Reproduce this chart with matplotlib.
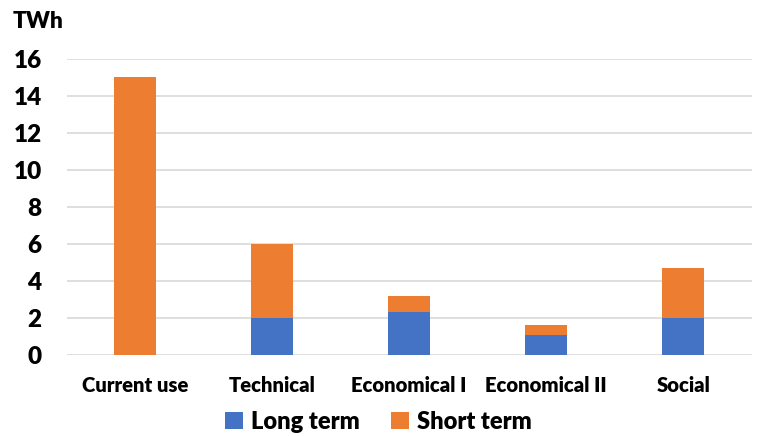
import matplotlib.pyplot as plt
import numpy as np

# Données
categories = ["Current use", "Technical", "Economical I", "Economical II", "Social"]
long_term = [0, 2.0, 2.3, 1.1, 2.0]
short_term = [15.0, 4.0, 0.9, 0.5, 2.7]

plt.rcParams['font.family'] = ['Lato', 'DejaVu Sans']

fig = plt.figure(figsize=(7.57, 4.36), dpi=100)
ax = fig.add_axes([0.088, 0.186, 0.905, 0.679])

x = np.arange(len(categories))
ax.bar(x, long_term, width=0.31, color='#4472C4', label="Long term", zorder=3)
ax.bar(x, short_term, width=0.31, bottom=long_term, color='#ED7D31', label="Short term", zorder=3)

ax.set_ylim(0, 16)
ax.set_xlim(-0.5, len(categories) - 0.5)
ax.set_yticks(range(0, 17, 2))
ax.set_xticks(x)
ax.set_xticklabels(categories, fontsize=14.6, fontweight='heavy')
ax.tick_params(axis='y', labelsize=17.5, length=0, pad=18)
for lab in ax.get_yticklabels():
    lab.set_fontweight('heavy')
ax.tick_params(axis='x', length=0, pad=15)
ax.grid(axis='y', color='#d9d9d9', linewidth=1.2, zorder=0)
for s in ax.spines.values():
    s.set_visible(False)

fig.text(0.017, 0.95, "TWh", fontsize=16.3, fontweight='heavy', va='center')

fig.legend(loc='center', bbox_to_anchor=(0.5, 0.033), ncol=2, frameon=False,
           prop={'size': 17, 'weight': 'heavy'}, handlelength=0.75, handleheight=0.75,
           handletextpad=0.35, columnspacing=1.3)

fig.savefig("out.png", dpi=100)
